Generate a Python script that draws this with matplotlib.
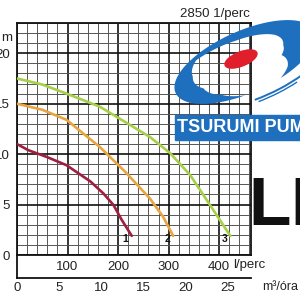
import numpy as np
import matplotlib
matplotlib.use("Agg")
import matplotlib.pyplot as plt
from matplotlib.patches import Ellipse, Arc, Rectangle, Polygon

plt.rcParams['font.family'] = ['Liberation Sans', 'DejaVu Sans']

# pump curves, flow in l/perc, head in m
q1 = [0, 22, 60, 98, 145, 171, 191, 207, 227]
h1 = [11.0, 10.4, 9.7, 8.9, 7.3, 6.1, 4.95, 3.5, 1.9]
q2 = [0, 50, 98, 164, 215, 263, 289, 309]
h2 = [15.0, 14.4, 13.4, 10.7, 8.2, 5.6, 3.8, 1.9]
q3 = [0, 50, 98, 164, 263, 303, 343, 382, 422]
h3 = [17.5, 16.9, 16.0, 14.7, 11.7, 10.1, 7.9, 4.95, 1.9]
curve_names = ["1", "2", "3"]
lpm_ticks = [100, 200, 300, 400]
m3h_ticks = [0, 5, 10, 15, 20, 25]
head_ticks = [0, 5, 10, 15, 20]

fig = plt.figure(figsize=(3, 3), dpi=100)
txt = "#222222"

ax = fig.add_axes([17/300, 45/300, 234/300, 232/300])
ax.set_xlim(0, 463)
ax.set_ylim(0, 23)
ax.set_xticks(np.arange(0, 461, 20), minor=True)
ax.set_yticks(np.arange(0, 24, 1), minor=True)
ax.set_xticks(lpm_ticks)
ax.set_yticks(head_ticks)
ax.grid(which="minor", color="#555555", lw=0.7)
ax.grid(which="major", color="#111111", lw=1.2)
ax.tick_params(which="both", length=0, labelsize=9.5, colors=txt)
ax.tick_params(axis="x", pad=4)
ax.tick_params(axis="y", pad=5)
for s in ax.spines.values():
    s.set_color("#111111")
    s.set_linewidth(1.3)

colors = ["#9e1f40", "#e9a53f", "#a6d048"]
for q, h, c, name in zip([q1, q2, q3], [h1, h2, h3], colors, curve_names):
    ax.plot(q, h, color=c, lw=1.9, solid_capstyle="round", zorder=3)
    ax.text(q[-1] - 12, h[-1] - 0.35, name, fontsize=7.5, fontweight="bold",
            color="#111111", ha="center", va="center", zorder=4)

ax.annotate("l/perc", xy=(400, 0), xycoords="data", xytext=(10, -3),
            textcoords="offset points", ha="left", va="top",
            fontsize=9.5, color=txt, annotation_clip=False)

# lower scale in m3/h
ax2 = fig.add_axes([17/300, 22/300, 234/300, 23/300])
ax2.set_xlim(0, 463 / 16.667)
ax2.set_ylim(0, 1)
ax2.set_xticks(m3h_ticks)
ax2.set_yticks([])
ax2.spines["top"].set_visible(False)
ax2.spines["right"].set_visible(False)
for s in ["left", "bottom"]:
    ax2.spines[s].set_color("#111111")
    ax2.spines[s].set_linewidth(1.3)
ax2.tick_params(length=0, labelsize=9.5, colors=txt, pad=3)
ax2.patch.set_alpha(0)

fig.text(262/300, 1 - 287/300, "m³/óra", fontsize=9, color=txt, ha="left", va="center")
fig.text(12/300, 1 - 38/300, "m", fontsize=9.5, color=txt, ha="right", va="center")
fig.text(215/300, 1 - 14/300, "2850 1/perc", fontsize=9.5, color=txt, ha="center", va="center")

# logo overlay in pixel coords
lg = fig.add_axes([0, 0, 1, 1])
lg.set_xlim(0, 300)
lg.set_ylim(300, 0)
lg.axis("off")
blue = "#1f6fbf"

# swoosh ring: ellipse with a varying inner scale (gap at the bottom)
cx, cy, a, b, rot = 245, 62, 76, 31, np.deg2rad(-24)
t = np.deg2rad(np.linspace(0, 360, 361))
k = np.interp(np.rad2deg(t), [0, 30, 55, 70, 100, 125, 160, 200, 230, 270, 320, 360],
              [0.55, 0.55, 0.85, 1.0, 1.0, 0.8, 0.68, 0.75, 0.9, 0.75, 0.65, 0.55])
ex, ey = a * np.cos(t), b * np.sin(t)
px = cx + ex * np.cos(rot) - ey * np.sin(rot)
py = cy + ex * np.sin(rot) + ey * np.cos(rot)
ix = cx + k * (ex * np.cos(rot) - ey * np.sin(rot))
iy = cy + k * (ex * np.sin(rot) + ey * np.cos(rot))
ring = np.column_stack([np.r_[px, ix[::-1]], np.r_[py, iy[::-1]]])
lg.add_patch(Polygon(ring, closed=True, facecolor=blue, edgecolor="none", zorder=1))
lg.add_patch(Ellipse((241, 59), 34, 14, angle=-22, color="#e01e2c", zorder=3))
lg.add_patch(Arc((252, 60), 178, 76, angle=-24, theta1=40, theta2=110, color=blue, lw=1.4, zorder=3))
lg.add_patch(Arc((252, 60), 186, 82, angle=-24, theta1=50, theta2=105, color=blue, lw=1.0, zorder=3))
lg.add_patch(Rectangle((175, 115), 130, 25, color=blue, zorder=1))
lg.text(177, 128, "TSURUMI PUMP", fontsize=13, fontweight="bold", color="white",
        ha="left", va="center", zorder=4)
fig.text(248/300, 1 - 225/300, "L", fontsize=50, fontweight="bold", color="#111111",
         ha="left", va="baseline")
fig.text(290/300, 1 - 225/300, "E", fontsize=50, fontweight="bold", color="#111111",
         ha="left", va="baseline")

fig.savefig("out.png", dpi=100)
